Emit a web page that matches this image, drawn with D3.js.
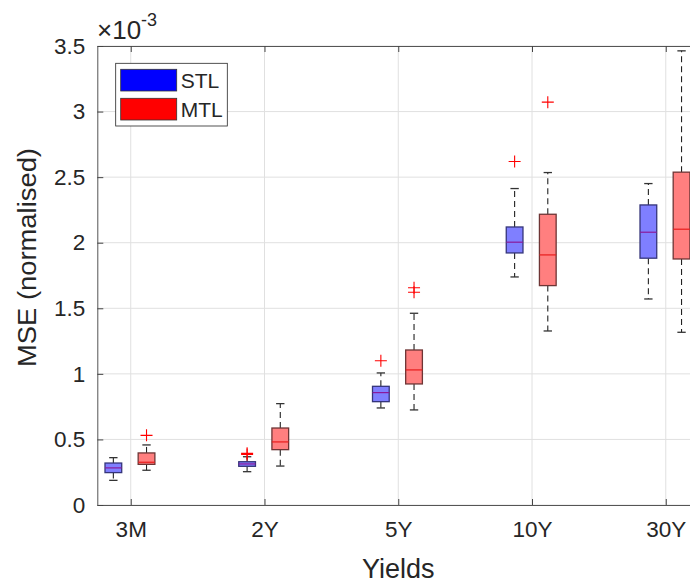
<!DOCTYPE html>
<html>
<head>
<meta charset="utf-8">
<script src="https://cdn.jsdelivr.net/npm/d3@7"></script>
<style>
    body { margin: 0; background: #fff; }
    text { font-family: "Liberation Sans", Arial, sans-serif; fill: #262626; }
</style>
</head>
<body>
<div id="my_boxchart"></div>
<script>
// categories on the x axis
var categories = ["3M", "2Y", "5Y", "10Y", "30Y"];
var yTicks = [0, 0.5, 1, 1.5, 2, 2.5, 3, 3.5];
var yExponent = "-3";

// STL box stats (x 10^-3)
var stlLower = [0.188, 0.254, 0.740, 1.739, 1.571];
var stlQ1 = [0.247, 0.295, 0.788, 1.922, 1.882];
var stlMedian = [0.283, 0.313, 0.857, 2.004, 2.080];
var stlQ3 = [0.320, 0.330, 0.905, 2.120, 2.288];
var stlUpper = [0.361, 0.368, 1.007, 2.413, 2.451];
var stlOutliers = [[], [0.386, 0.394], [1.100], [2.619], []];

// MTL box stats (x 10^-3)
var mtlLower = [0.265, 0.297, 0.725, 1.327, 1.317];
var mtlQ1 = [0.310, 0.422, 0.923, 1.673, 1.876];
var mtlMedian = [0.326, 0.481, 1.030, 1.907, 2.103];
var mtlQ3 = [0.397, 0.587, 1.182, 2.217, 2.538];
var mtlUpper = [0.458, 0.773, 1.462, 2.535, 3.463];
var mtlOutliers = [[0.531], [], [1.622, 1.657], [3.072], []];

var seriesNames = ["STL", "MTL"];

var width = 690, height = 583;
var plot = { left: 97.3, right: 699.2, top: 46, bottom: 505 };

var svg = d3.select("#my_boxchart")
    .append("svg")
    .attr("width", width)
    .attr("height", height);

var xscale = d3.scaleLinear()
    .domain([0.75, 5.25])
    .range([plot.left, plot.right]);
var yscale = d3.scaleLinear()
    .domain([0, 3.5])
    .range([plot.bottom, plot.top]);

var xTickVals = categories.map(function(d, i) { return i + 1; });

// grid
svg.append("g")
    .selectAll("line.hgrid")
    .data(yTicks)
    .enter()
    .append("line")
    .attr("x1", plot.left).attr("x2", plot.right)
    .attr("y1", d => yscale(d)).attr("y2", d => yscale(d))
    .attr("stroke", "#e0e0e0").attr("stroke-width", 1);
svg.append("g")
    .selectAll("line.vgrid")
    .data(xTickVals)
    .enter()
    .append("line")
    .attr("x1", d => xscale(d)).attr("x2", d => xscale(d))
    .attr("y1", plot.top).attr("y2", plot.bottom)
    .attr("stroke", "#e0e0e0").attr("stroke-width", 1);

// axes (ticks inward)
var xAxis = svg.append("g")
    .attr("transform", "translate(0," + plot.bottom + ")")
    .call(d3.axisBottom(xscale).tickValues(xTickVals)
        .tickFormat(function(d) { return categories[d - 1]; })
        .tickSizeInner(-6).tickSizeOuter(0).tickPadding(16));
var xAxisTop = svg.append("g")
    .attr("transform", "translate(0," + plot.top + ")")
    .call(d3.axisTop(xscale).tickValues(xTickVals)
        .tickFormat("").tickSizeInner(-6).tickSizeOuter(0));
var yAxis = svg.append("g")
    .attr("transform", "translate(" + plot.left + ",0)")
    .call(d3.axisLeft(yscale).tickValues(yTicks)
        .tickFormat(d3.format("~g"))
        .tickSizeInner(-6).tickSizeOuter(0).tickPadding(12));

[xAxis, xAxisTop, yAxis].forEach(function(ax) {
    ax.attr("font-size", null).attr("font-family", null);
    ax.select(".domain").attr("stroke", "#555").attr("stroke-width", 1);
    ax.selectAll(".tick line").attr("stroke", "#444");
    ax.selectAll("text")
        .style("font-size", "22.5px")
        .attr("fill", "#262626");
});

// boxes
function drawBoxes(name, offset, fill, edge, medColor, lower, q1, med, q3, upper, outliers) {
    var bw = xscale(0.125) - xscale(0);
    var g = svg.append("g").attr("class", "series-" + name);
    var rows = categories.map(function(c, i) {
        return { x: xscale(i + 1 + offset), lo: lower[i], q1: q1[i], med: med[i], q3: q3[i], hi: upper[i], out: outliers[i] };
    });

    var box = g.selectAll("g.box")
        .data(rows)
        .enter()
        .append("g")
        .attr("class", "box");

    // whiskers
    box.append("line")
        .attr("x1", d => d.x).attr("x2", d => d.x)
        .attr("y1", d => yscale(d.q3)).attr("y2", d => yscale(d.hi))
        .attr("stroke", "#222").attr("stroke-width", 1.1)
        .attr("stroke-dasharray", "6,4");
    box.append("line")
        .attr("x1", d => d.x).attr("x2", d => d.x)
        .attr("y1", d => yscale(d.q1)).attr("y2", d => yscale(d.lo))
        .attr("stroke", "#222").attr("stroke-width", 1.1)
        .attr("stroke-dasharray", "6,4");
    // caps
    box.append("line")
        .attr("x1", d => d.x - bw / 4).attr("x2", d => d.x + bw / 4)
        .attr("y1", d => yscale(d.hi)).attr("y2", d => yscale(d.hi))
        .attr("stroke", "#333").attr("stroke-width", 1.3);
    box.append("line")
        .attr("x1", d => d.x - bw / 4).attr("x2", d => d.x + bw / 4)
        .attr("y1", d => yscale(d.lo)).attr("y2", d => yscale(d.lo))
        .attr("stroke", "#333").attr("stroke-width", 1.3);
    // box
    box.append("rect")
        .attr("x", d => d.x - bw / 2)
        .attr("y", d => yscale(d.q3))
        .attr("width", bw)
        .attr("height", d => yscale(d.q1) - yscale(d.q3))
        .attr("fill", fill)
        .attr("stroke", edge).attr("stroke-width", 1.3);
    // median
    box.append("line")
        .attr("x1", d => d.x - bw / 2).attr("x2", d => d.x + bw / 2)
        .attr("y1", d => yscale(d.med)).attr("y2", d => yscale(d.med))
        .attr("stroke", medColor).attr("stroke-width", 1.2);

    // outliers as red plus signs
    var outs = [];
    rows.forEach(function(r) {
        r.out.forEach(function(v) { outs.push({ x: r.x, v: v }); });
    });
    g.selectAll("path.outlier")
        .data(outs)
        .enter()
        .append("path")
        .attr("class", "outlier")
        .attr("d", function(d) {
            var cx = d.x, cy = yscale(d.v), s = 6;
            return "M" + (cx - s) + "," + cy + "H" + (cx + s) + "M" + cx + "," + (cy - s) + "V" + (cy + s);
        })
        .attr("stroke", "#ff0000").attr("stroke-width", 1.1)
        .attr("fill", "none");
}

drawBoxes("STL", -0.13, "#7f7fff", "#35357a", "#8a1a9a",
    stlLower, stlQ1, stlMedian, stlQ3, stlUpper, stlOutliers);
drawBoxes("MTL", 0.118, "#ff7f7f", "#6e3535", "#e81c1c",
    mtlLower, mtlQ1, mtlMedian, mtlQ3, mtlUpper, mtlOutliers);

// exponent label
var expText = svg.append("text")
    .attr("x", 97)
    .attr("y", 39)
    .style("font-size", "26px");
expText.append("tspan").text("\u00d710");
expText.append("tspan")
    .attr("dy", -13)
    .style("font-size", "18px")
    .text(yExponent);

// axis titles
svg.append("text")
    .attr("x", (plot.left + plot.right) / 2)
    .attr("y", 578)
    .attr("text-anchor", "middle")
    .style("font-size", "27px")
    .text("Yields");
svg.append("text")
    .attr("transform", "translate(36,257.5)rotate(-90)")
    .attr("text-anchor", "middle")
    .attr("textLength", 219)
    .attr("lengthAdjust", "spacingAndGlyphs")
    .style("font-size", "25px")
    .text("MSE (normalised)");

// legend
var legend = svg.append("g").attr("class", "legend");
legend.append("rect")
    .attr("x", 115.7).attr("y", 63.3)
    .attr("width", 111.6).attr("height", 62.7)
    .attr("fill", "#fff")
    .attr("stroke", "#262626").attr("stroke-width", 0.8);
var legendColors = ["#0000ff", "#ff0000"];
var legendItems = legend.selectAll("g.item")
    .data(seriesNames)
    .enter()
    .append("g")
    .attr("transform", function(d, i) { return "translate(120.7," + (69.3 + i * 29) + ")"; });
legendItems.append("rect")
    .attr("width", 56).attr("height", 21.7)
    .attr("fill", (d, i) => legendColors[i])
    .attr("stroke", "#333").attr("stroke-width", 0.8);
legendItems.append("text")
    .attr("x", 60).attr("y", 18.8)
    .style("font-size", "21px")
    .text(d => d);
</script>
</body>
</html>
